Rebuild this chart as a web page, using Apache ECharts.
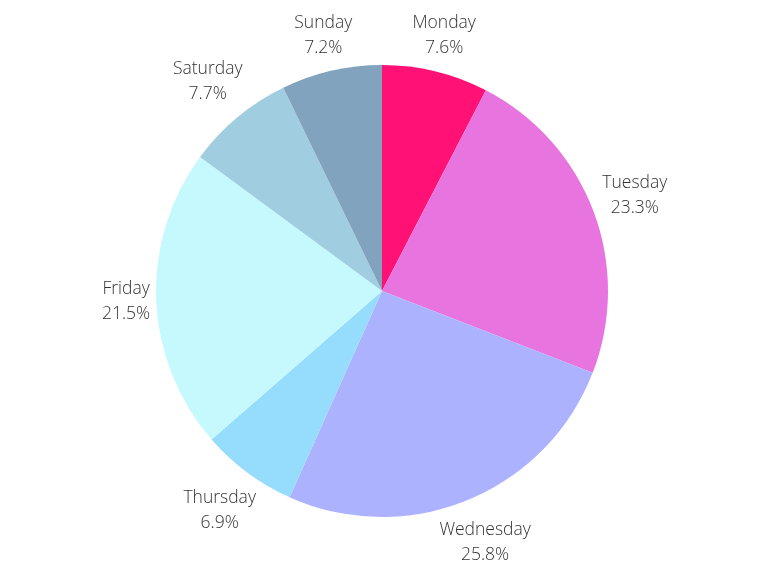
<!DOCTYPE html>
<html>
<head>
<meta charset="utf-8">
<script src="https://cdn.jsdelivr.net/npm/echarts@6/dist/echarts.min.js"></script>
<style>
  html, body { margin: 0; padding: 0; background: #fff; }
  #chart { width: 770px; height: 578px; }
</style>
</head>
<body>
<div id="chart"></div>
<script>
// 数据
const days = ['Monday', 'Tuesday', 'Wednesday', 'Thursday', 'Friday', 'Saturday', 'Sunday']
const shares = [7.6, 23.3, 25.8, 6.9, 21.5, 7.7, 7.2]
const sliceColors = ['#ff1175', '#e874df', '#adb2ff', '#96dcfd', '#c5f9fd', '#a1cde1', '#82a3be']

const cx = 382, cy = 291, R = 226, gap = 5

const chart = echarts.init(document.getElementById('chart'))

const total = shares.reduce((a, b) => a + b, 0)
// 每个扇区中线的角度（从正上方顺时针）
const midAngles = shares.map((v, i) => {
  const before = shares.slice(0, i).reduce((a, b) => a + b, 0)
  return (before + v / 2) / total * Math.PI * 2
})

chart.setOption({
  animation: false,
  series: [
    {
      type: 'pie',
      center: [cx, cy],
      radius: [0, R],
      startAngle: 90,
      clockwise: true,
      silent: true,
      itemStyle: { borderWidth: 0 },
      labelLine: { show: false },
      label: {
        show: true,
        position: 'outside',
        color: '#333',
        fontFamily: 'Open Sans',
        fontWeight: 300,
        fontSize: 17.5,
        lineHeight: 25,
        formatter: p => p.name + '\n' + p.value.toFixed(1) + '%'
      },
      // 标签框边缘与圆弧保持固定间距
      labelLayout: params => {
        const a = midAngles[params.dataIndex]
        const s = Math.sin(a), c = -Math.cos(a)
        const hw = params.labelRect.width / 2, hh = params.labelRect.height / 2
        const d = R + gap + Math.abs(hw * s) + Math.abs(hh * c)
        return { x: cx + d * s, y: cy + d * c, align: 'center', verticalAlign: 'middle' }
      },
      data: days.map((d, i) => ({ name: d, value: shares[i], itemStyle: { color: sliceColors[i] } }))
    }
  ]
})
</script>
</body>
</html>
